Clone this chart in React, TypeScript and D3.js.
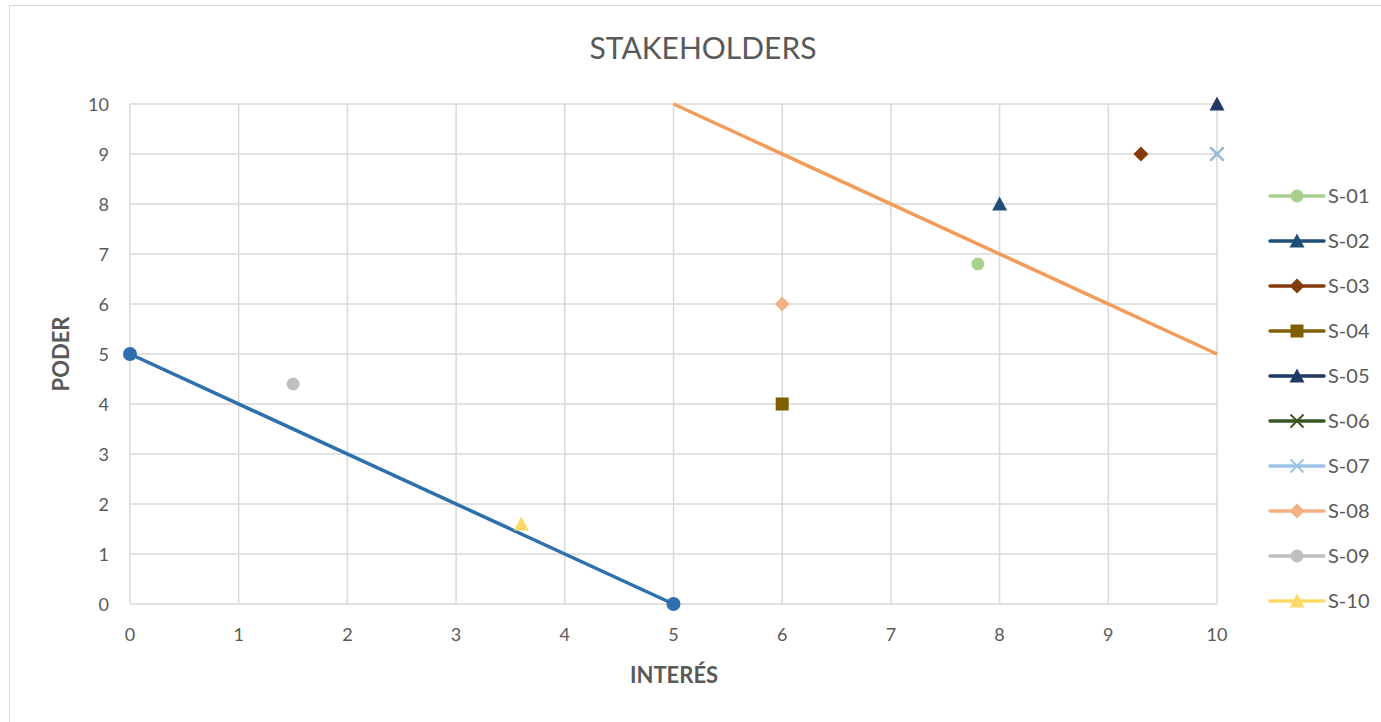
import React from "react";
import * as d3 from "d3";

const W = 1381;
const H = 722;

const seriesNames = ["S-01", "S-02", "S-03", "S-04", "S-05", "S-06", "S-07", "S-08", "S-09", "S-10"];
const seriesX = [7.8, 8, 9.3, 6, 10, 10, 10, 6, 1.5, 3.6];
const seriesY = [6.8, 8, 9, 4, 10, 9, 9, 6, 4.4, 1.6];
const seriesColors = ["#A9D18E", "#1F4E79", "#843C0C", "#7F6000", "#203864", "#385723", "#9DC3E6", "#F4B183", "#BFBFBF", "#FFD966"];
const seriesShapes = ["circle", "triangle", "diamond", "square", "triangle", "x", "x", "diamond", "circle", "triangle"];

const lowLineX = [0, 5];
const lowLineY = [5, 0];
const highLineX = [5, 10];
const highLineY = [10, 5];

const xTicks = [0, 1, 2, 3, 4, 5, 6, 7, 8, 9, 10];
const yTicks = [0, 1, 2, 3, 4, 5, 6, 7, 8, 9, 10];

const margin = { left: 130, right: 1217, top: 104, bottom: 604 };

function Marker({ shape, cx, cy, color, size }: { shape: string; cx: number; cy: number; color: string; size: number }) {
  const s = size;
  if (shape === "circle") return <circle cx={cx} cy={cy} r={s / 2} fill={color} />;
  if (shape === "square") return <rect x={cx - s / 2} y={cy - s / 2} width={s} height={s} fill={color} />;
  if (shape === "diamond")
    return <path d={`M${cx},${cy - s / 2 - 1}L${cx + s / 2 + 1},${cy}L${cx},${cy + s / 2 + 1}L${cx - s / 2 - 1},${cy}Z`} fill={color} />;
  if (shape === "triangle")
    return <path d={`M${cx},${cy - s / 2 - 1}L${cx + s / 2 + 1},${cy + s / 2}L${cx - s / 2 - 1},${cy + s / 2}Z`} fill={color} />;
  if (shape === "x")
    return (
      <g stroke={color} strokeWidth={2}>
        <line x1={cx - s / 2} y1={cy - s / 2} x2={cx + s / 2} y2={cy + s / 2} />
        <line x1={cx - s / 2} y1={cy + s / 2} x2={cx + s / 2} y2={cy - s / 2} />
      </g>
    );
  return null;
}

export default function App() {
  const x = d3.scaleLinear().domain([0, 10]).range([margin.left, margin.right]);
  const y = d3.scaleLinear().domain([0, 10]).range([margin.bottom, margin.top]);
  const line = d3
    .line<[number, number]>()
    .x((d) => x(d[0]))
    .y((d) => y(d[1]));
  const font = "Lato, 'Open Sans', sans-serif";
  const textColor = "#595959";

  const lowPts = lowLineX.map((v, i) => [v, lowLineY[i]] as [number, number]);
  const highPts = highLineX.map((v, i) => [v, highLineY[i]] as [number, number]);

  const legendY0 = 196;
  const legendStep = 45;

  return (
    <svg width={W} height={H} style={{ position: "absolute", left: 0, top: 0, background: "#fff" }} fontFamily={font}>
      <rect x={0} y={0} width={W} height={H} fill="#fff" />
      <path d={`M9.5,${H + 2}V5.5H${W + 2}`} fill="none" stroke="#D9D9D9" strokeWidth={1} />
      <text x={703} y={59} textAnchor="middle" fontSize={30} fill={textColor}>
        STAKEHOLDERS
      </text>
      {/* gridlines */}
      {xTicks.map((t) => (
        <line key={"gx" + t} x1={x(t)} x2={x(t)} y1={y(10)} y2={y(0)} stroke="#D9D9D9" strokeWidth={1.5} />
      ))}
      {yTicks.map((t) => (
        <line key={"gy" + t} x1={x(0)} x2={x(10)} y1={y(t)} y2={y(t)} stroke="#D9D9D9" strokeWidth={1.5} />
      ))}
      {/* tick labels */}
      {xTicks.map((t) => (
        <text key={"tx" + t} x={x(t)} y={y(0) + 37} textAnchor="middle" fontSize={18} fill={textColor}>
          {t}
        </text>
      ))}
      {yTicks.map((t) => (
        <text key={"ty" + t} x={x(0) - 21} y={y(t) + 6.5} textAnchor="end" fontSize={18} fill={textColor}>
          {t}
        </text>
      ))}
      <text x={674} y={683} textAnchor="middle" fontSize={22} fontWeight="bold" fill={textColor}>
        INTERÉS
      </text>
      <text transform={`translate(69,354) rotate(-90)`} textAnchor="middle" fontSize={22} fontWeight="bold" fill={textColor}>
        PODER
      </text>
      {/* reference lines */}
      <path d={line(lowPts) || ""} fill="none" stroke="#2E6FAE" strokeWidth={3.5} />
      {lowPts.map((p, i) => (
        <circle key={"lp" + i} cx={x(p[0])} cy={y(p[1])} r={7} fill="#2E6FAE" />
      ))}
      <path d={line(highPts) || ""} fill="none" stroke="#F39C5A" strokeWidth={3.5} />
      {/* series points */}
      {seriesNames.map((n, i) => (
        <Marker key={n} shape={seriesShapes[i]} cx={x(seriesX[i])} cy={y(seriesY[i])} color={seriesColors[i]} size={13} />
      ))}
      {/* legend */}
      {seriesNames.map((n, i) => {
        const ly = legendY0 + i * legendStep;
        return (
          <g key={"lg" + n}>
            <line x1={1270} x2={1324} y1={ly} y2={ly} stroke={seriesColors[i]} strokeWidth={3.5} strokeLinecap="round" />
            <Marker shape={seriesShapes[i]} cx={1297} cy={ly} color={seriesColors[i]} size={13} />
            <text x={1328} y={ly + 7} fontSize={20} fill={textColor}>
              {n}
            </text>
          </g>
        );
      })}
    </svg>
  );
}
